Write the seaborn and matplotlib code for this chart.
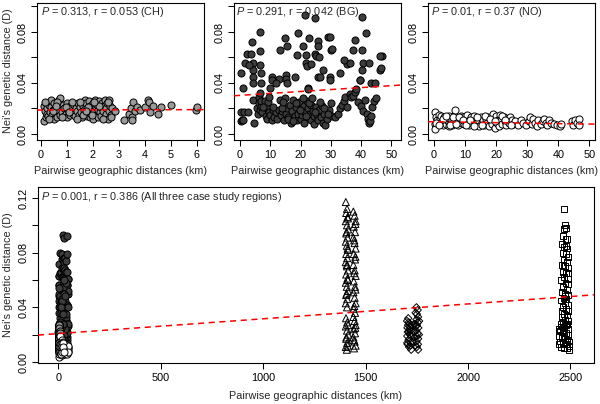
import matplotlib
matplotlib.use("Agg")
import pandas as pd
import matplotlib.pyplot as plt
import seaborn as sns

# ------------------------------------------------------------------
# Pairwise (geographic km, Nei's D) values
# ------------------------------------------------------------------
ch_pts = [
    (0.10, .022), (0.12, .010), (0.15, .018), (0.18, .013), (0.20, .024), (0.22, .016), (0.25, .020), (0.28, .014),
    (0.30, .023), (0.35, .017), (0.38, .021), (0.40, .027), (0.42, .015), (0.45, .019), (0.50, .024), (0.52, .012),
    (0.55, .020), (0.58, .016), (0.60, .022), (0.62, .013), (0.65, .026), (0.68, .018), (0.70, .027), (0.72, .015),
    (0.75, .028), (0.78, .021), (0.80, .017), (0.85, .023), (0.88, .014), (0.90, .020), (0.95, .016), (1.00, .024),
    (1.02, .013), (1.05, .019), (1.10, .022), (1.12, .015), (1.15, .018), (1.20, .021), (1.25, .016), (1.28, .023),
    (1.30, .014), (1.35, .020), (1.40, .018), (1.42, .024), (1.45, .015), (1.50, .021), (1.55, .017), (1.58, .013),
    (1.60, .022), (1.65, .019), (1.68, .016), (1.70, .027), (1.72, .021), (1.75, .024), (1.78, .014), (1.80, .018),
    (1.85, .026), (1.88, .013), (1.90, .022), (1.92, .016), (1.95, .020), (2.00, .024), (2.02, .012), (2.05, .018),
    (2.08, .027), (2.10, .021), (2.12, .015), (2.15, .023), (2.18, .013), (2.20, .019), (2.25, .026), (2.28, .017),
    (2.30, .021), (2.32, .014), (2.35, .024), (2.40, .018), (2.42, .022), (2.45, .027), (2.48, .013), (2.50, .020),
    (2.52, .016), (2.55, .024), (2.58, .012), (2.60, .027), (2.62, .018), (2.65, .022), (2.70, .015), (2.75, .020),
    (2.85, .018), (0.15, .025), (0.32, .012), (0.48, .018), (0.62, .025), (0.82, .013), (0.98, .021), (1.18, .025),
    (1.38, .012), (1.52, .025), (1.62, .015), (1.82, .021), (1.98, .015), (2.22, .022), (2.38, .012), (2.58, .025),
    (2.68, .013), (1.08, .017), (0.58, .022), (2.05, .025), (1.72, .018),
    (3.20, .011), (3.40, .016), (3.45, .020), (3.50, .013), (3.52, .011), (3.55, .025), (3.60, .018), (3.70, .021),
    (3.80, .019), (4.00, .021), (4.10, .027), (4.15, .025), (4.20, .017), (4.30, .022), (4.50, .016), (4.60, .021),
    (5.00, .023), (5.95, .019), (6.00, .021),
]

bg_pts = [
    (0.3, .017), (0.4, .010), (0.6, .011), (1.2, .017), (2.5, .017), (4.5, .009), (4.4, .027), (5.5, .020),
    (6.0, .016), (6.2, .024), (6.4, .029), (6.6, .019), (6.8, .022), (7.0, .026), (7.2, .017), (8.2, .026),
    (8.5, .014), (8.8, .020), (9.0, .012), (9.3, .025), (9.7, .017), (10.0, .015), (10.4, .011), (10.8, .019),
    (11.3, .013), (11.8, .017), (12.3, .012), (12.8, .019), (13.2, .027), (13.6, .015), (14.0, .018), (14.4, .011),
    (14.8, .028), (15.2, .016), (15.6, .020), (16.0, .013), (16.4, .023), (16.8, .009), (17.2, .018), (17.6, .027),
    (18.0, .014), (18.4, .021), (18.8, .011), (19.2, .016), (19.6, .025), (20.0, .012), (20.3, .019), (20.6, .015),
    (21.0, .022), (21.3, .009), (21.6, .017), (22.0, .026), (22.3, .013), (22.6, .020), (23.0, .016), (23.3, .011),
    (23.6, .023), (24.0, .018), (24.3, .014), (24.6, .008), (25.0, .021), (25.4, .015), (25.8, .011), (26.2, .019),
    (26.6, .013), (27.0, .022), (27.4, .009), (27.8, .016), (28.2, .007), (28.6, .012), (29.5, .019), (30.5, .014),
    (31.5, .013), (32.3, .016), (33.0, .020), (33.6, .023), (34.2, .026), (34.8, .029), (35.5, .021), (36.2, .031),
    (36.8, .029), (37.4, .030), (38.0, .033), (39.0, .025), (40.0, .022), (40.6, .018), (41.2, .027), (41.8, .016),
    (42.2, .012), (42.5, .009), (42.8, .010), (43.2, .014), (43.6, .021), (44.2, .026), (45.0, .028),
    (1.0, .011), (6.5, .032), (7.5, .021), (11.0, .021), (13.8, .020), (15.8, .012), (17.4, .010), (18.6, .024),
    (19.8, .019), (21.8, .014), (22.8, .024), (24.8, .017), (26.4, .025), (27.6, .020), (29.0, .016), (30.2, .024),
    (20.8, .028), (14.2, .025), (9.5, .029), (23.8, .028),
    (0.2, .048), (0.9, .036), (1.5, .056), (2.3, .063), (3.6, .063), (4.0, .072), (4.2, .056), (4.2, .050),
    (4.3, .045), (4.3, .040), (6.6, .080), (6.6, .065), (6.6, .054), (6.8, .048), (6.8, .040), (10.5, .045),
    (10.5, .042), (10.0, .036), (13.0, .043), (13.3, .066), (15.0, .075), (15.5, .069), (15.2, .046), (15.3, .043),
    (15.4, .040), (19.2, .079), (18.8, .062), (20.9, .069), (21.5, .093), (21.8, .062), (21.8, .056), (22.0, .053),
    (22.3, .036), (22.8, .075), (24.7, .091), (24.7, .063), (25.2, .061), (25.6, .073), (25.6, .069), (25.6, .045),
    (26.4, .045), (29.0, .076), (29.8, .076), (30.0, .066), (30.3, .067), (29.8, .045), (29.8, .042), (35.5, .055),
    (36.3, .056), (37.3, .066), (38.0, .074), (38.4, .035), (39.5, .042), (40.2, .092), (40.4, .066), (41.5, .079),
    (40.8, .056), (40.4, .050), (39.6, .042), (42.7, .056), (43.3, .040), (46.3, .050), (46.6, .052), (47.0, .061),
    (46.4, .061), (22.5, .035), (18.0, .045), (23.3, .055), (27.3, .050), (44.5, .040), (3.0, .054), (34.5, .058),
    (12.0, .040), (33.0, .048), (26.0, .060),
]

no_pts = [
    (0.2, .008), (0.3, .004), (0.5, .017), (0.8, .013), (1.0, .011), (1.2, .009), (1.5, .015), (1.8, .012),
    (2.0, .008), (2.3, .014), (2.6, .010), (2.9, .007), (3.2, .013), (3.5, .011), (3.8, .008), (4.1, .012),
    (4.4, .010), (4.7, .006), (5.0, .014), (5.3, .009), (5.6, .012), (5.9, .007), (6.2, .011), (6.5, .014),
    (6.9, .019), (7.2, .009), (7.5, .012), (7.8, .007), (8.2, .011), (8.6, .014), (9.0, .009), (9.4, .013),
    (9.8, .008), (10.2, .012), (10.6, .015), (11.0, .010), (11.4, .007), (11.8, .013), (12.2, .009), (12.6, .011),
    (13.0, .014), (13.4, .008), (13.8, .012), (14.2, .010), (14.6, .006), (15.0, .013), (15.4, .009), (15.8, .011),
    (16.2, .007), (16.6, .012), (17.0, .009), (17.4, .013), (17.8, .006), (18.2, .010), (18.6, .008), (19.0, .016),
    (19.3, .012), (19.6, .005), (20.0, .014), (20.3, .009), (20.6, .011), (21.0, .006), (21.3, .015), (21.6, .012),
    (22.0, .008), (22.4, .013), (22.8, .010), (23.2, .007), (23.6, .012), (24.0, .009), (24.5, .013), (25.0, .011),
    (25.5, .008), (26.0, .010), (27.0, .007), (28.0, .011), (28.5, .009), (29.5, .007), (30.5, .010), (31.0, .013),
    (31.5, .008), (32.0, .012), (32.5, .009), (33.0, .006), (33.5, .011), (34.5, .008), (35.0, .010), (35.5, .012),
    (36.0, .009), (36.5, .007), (37.0, .011), (37.5, .009), (38.5, .008), (39.5, .007), (40.5, .006), (41.0, .008),
    (44.5, .010), (44.8, .007), (45.5, .011), (46.0, .009), (46.5, .012), (46.8, .007),
    (0.7, .009), (1.6, .007), (2.8, .012), (3.9, .014), (5.2, .007), (6.0, .013), (7.0, .008), (8.0, .013),
    (9.2, .011), (10.4, .007), (11.6, .011), (12.8, .006), (14.0, .013), (15.6, .007), (16.4, .014), (18.0, .012),
    (19.8, .010), (21.8, .014), (23.0, .011), (24.8, .007),
]

# between-region pairs (bottom panel)
ch_bg_pts = [
    (1403, .117), (1409, .112), (1405, .109), (1412, .106), (1403, .103), (1409, .100), (1414, .097), (1405, .094),
    (1411, .091), (1403, .088), (1408, .085), (1414, .082), (1405, .079), (1410, .076), (1403, .073), (1409, .070),
    (1414, .067), (1405, .064), (1411, .061), (1403, .058), (1408, .055), (1413, .052), (1405, .049), (1410, .046),
    (1403, .043), (1409, .040), (1404, .032), (1410, .029), (1403, .026), (1409, .023), (1414, .020), (1405, .017),
    (1410, .014), (1403, .011), (1408, .009), (1413, .105), (1407, .095), (1412, .083), (1408, .071), (1413, .060),
    (1407, .050), (1414, .027), (1406, .018), (1412, .012),
    (1440, .110), (1446, .107), (1451, .103), (1442, .099), (1448, .095), (1440, .091), (1446, .087), (1451, .083),
    (1442, .079), (1448, .075), (1440, .071), (1446, .067), (1451, .063), (1442, .059), (1448, .055), (1440, .051),
    (1446, .047), (1451, .043), (1442, .039), (1448, .036), (1440, .033), (1446, .030), (1451, .027), (1442, .024),
    (1448, .021), (1440, .018), (1446, .015), (1451, .012), (1443, .010), (1450, .101), (1444, .089), (1450, .077),
    (1444, .065), (1450, .053), (1444, .041), (1449, .025), (1443, .016),
]

ch_no_pts = [
    (1702, .030), (1708, .032), (1714, .028), (1704, .025), (1711, .022), (1718, .026), (1703, .019), (1709, .016),
    (1716, .020), (1705, .013), (1712, .011), (1719, .014), (1707, .027), (1714, .017), (1721, .023), (1703, .014),
    (1710, .029), (1717, .012), (1724, .019), (1726, .027), (1722, .009), (1706, .022), (1728, .015), (1713, .024),
    (1748, .040), (1754, .038), (1750, .035), (1756, .033), (1748, .031), (1755, .029), (1750, .027), (1757, .025),
    (1747, .023), (1754, .021), (1749, .019), (1756, .017), (1748, .015), (1755, .013), (1750, .011), (1756, .009),
    (1740, .028), (1738, .018), (1742, .012), (1735, .022), (1744, .036), (1760, .020), (1761, .030), (1745, .026),
]

bg_no_pts = [
    (2470, .112), (2472, .100), (2468, .097), (2480, .098), (2465, .092), (2476, .090), (2460, .086), (2470, .084),
    (2485, .083), (2462, .080), (2478, .079), (2490, .077), (2466, .075), (2482, .073), (2458, .071), (2474, .070),
    (2489, .069), (2463, .066), (2480, .065), (2470, .062), (2487, .061), (2455, .060), (2476, .058), (2490, .057),
    (2465, .055), (2482, .053), (2459, .051), (2474, .050), (2488, .049), (2466, .047), (2480, .046), (2455, .045),
    (2472, .043), (2486, .042), (2462, .040), (2478, .039), (2490, .037), (2468, .035), (2483, .034), (2458, .033),
    (2474, .031), (2488, .030), (2465, .029), (2480, .027), (2455, .026), (2470, .025), (2486, .024), (2450, .023),
    (2462, .022), (2477, .021), (2490, .020), (2445, .019), (2458, .018), (2472, .017), (2485, .016), (2448, .015),
    (2463, .014), (2478, .013), (2492, .012), (2452, .011), (2467, .010), (2482, .010), (2495, .009), (2446, .013),
    (2470, .019), (2484, .028), (2460, .037), (2475, .048), (2490, .065), (2466, .070), (2478, .085), (2484, .090),
    (2452, .028), (2494, .015), (2444, .024),
]

# Mantel test results and fitted lines (intercept, slope)
panel_names = ["CH", "BG", "NO", "All three case study regions"]
p_values = ["0.313", "0.291", "0.01", "0.001"]
r_values = ["0.053", "0.042", "0.37", "0.386"]
fit_intercept = [0.0188, 0.0303, 0.0096, 0.0208]
fit_slope = [0.00005, 0.000152, -0.000036, 0.00001084]

top_xticks = [[0, 1, 2, 3, 4, 5, 6], [0, 10, 20, 30, 40, 50], [0, 10, 20, 30, 40, 50]]
bottom_xticks = [0, 500, 1000, 1500, 2000, 2500]

# ------------------------------------------------------------------
sns.set_style("ticks")
plt.rcParams['font.family'] = ['Liberation Sans', 'DejaVu Sans']
plt.rcParams['mathtext.fontset'] = 'custom'
plt.rcParams['mathtext.it'] = 'Liberation Sans:italic'
plt.rcParams['mathtext.rm'] = 'Liberation Sans'

FS = 7.8
W, H = 600, 404
fig = plt.figure(figsize=(W / 100, H / 100), dpi=100)
fig.patch.set_facecolor('white')


def px_axes(left, top, right, bottom):
    return fig.add_axes([left / W, 1 - bottom / H, (right - left) / W, (bottom - top) / H])


def to_df(pts):
    return pd.DataFrame(pts, columns=['dist_km', 'nei_d'])


def draw_points(ax, pts, marker, fill, size):
    sns.scatterplot(data=to_df(pts), x='dist_km', y='nei_d', ax=ax, marker=marker,
                    color=fill, edgecolor='black', linewidth=0.7, s=size,
                    legend=False, zorder=3)


def style_axes(ax, xlim, ylim, xticks, yticks, ylabels):
    ax.set_xlim(xlim)
    ax.set_ylim(ylim)
    ax.set_xticks(xticks)
    ax.set_xticklabels([str(t) for t in xticks])
    ax.set_yticks(yticks)
    ax.set_yticklabels(ylabels, rotation=90, va='center')
    ax.tick_params(direction='out', length=4.5, width=0.75, labelsize=FS,
                   colors='black')
    ax.tick_params(axis='x', pad=3)
    ax.tick_params(axis='y', pad=2)
    for sp in ax.spines.values():
        sp.set_visible(True)
        sp.set_linewidth(0.8)
        sp.set_color('black')
    ax.set_xlabel('')
    ax.set_ylabel('')


def add_fit(ax, i):
    ax.axline((0, fit_intercept[i]), slope=fit_slope[i], color='#ff0000',
              ls=(0, (4, 3)), lw=1.1, zorder=4)


def add_stats(ax, i, dx, dy):
    ax.annotate(f"$P$ = {p_values[i]}, r = {r_values[i]} ({panel_names[i]})",
                xy=(0, 1), xycoords='axes fraction', xytext=(dx, -dy),
                textcoords='offset pixels', ha='left', va='center', fontsize=FS)


top_yticks = [0, 0.02, 0.04, 0.06, 0.08, 0.10]
top_ylabels = ['0.00', '', '0.04', '', '0.08', '']

# top row: within-region panels
top_boxes = [(37, 3, 204, 140), (234, 3, 401, 140), (428, 3, 595, 140)]
top_xlims = [(-0.15, 6.27), (-2.0, 53.2), (-1.9, 51.8)]
top_data = [ch_pts, bg_pts, no_pts]
top_fill = ['#9a9a9a', '#3d3d3d', 'white']
text_dx = [4, 2, 3]

for i in range(3):
    l, t, r, b = top_boxes[i]
    ax = px_axes(l, t, r, b)
    draw_points(ax, top_data[i], 'o', top_fill[i], 26)
    add_fit(ax, i)
    style_axes(ax, top_xlims[i], (-0.0047, 0.1027), top_xticks[i], top_yticks, top_ylabels)
    add_stats(ax, i, text_dx[i], 9)
    fig.text(((l + r) / 2) / W, 1 - 171 / H, "Pairwise geographic distances (km)",
             ha='center', va='center', fontsize=FS)

fig.text(8 / W, 1 - 71 / H, "Nei's genetic distance (D)", rotation=90,
         ha='center', va='center', fontsize=FS)

# bottom: all pairs
axb = px_axes(38, 187, 594, 363)
draw_points(axb, bg_pts, 'o', top_fill[1], 26)
draw_points(axb, ch_pts, 'o', top_fill[0], 26)
draw_points(axb, no_pts, 'o', top_fill[2], 26)
draw_points(axb, ch_bg_pts, '^', 'none', 26)
draw_points(axb, ch_no_pts, 'D', 'none', 14)
draw_points(axb, bg_no_pts, 's', 'none', 18)
add_fit(axb, 3)
style_axes(axb, (-100, 2615), (-0.0007, 0.128), bottom_xticks,
           [0, 0.02, 0.04, 0.06, 0.08, 0.10, 0.12],
           ['0.00', '', '0.04', '', '0.08', '', '0.12'])
add_stats(axb, 3, 3, 10)
fig.text(316 / W, 1 - 396 / H, "Pairwise geographic distances (km)",
         ha='center', va='center', fontsize=FS)
fig.text(8 / W, 1 - 275 / H, "Nei's genetic distance (D)", rotation=90,
         ha='center', va='center', fontsize=FS)

fig.savefig('out.png', dpi=100, facecolor='white')
plt.close(fig)
